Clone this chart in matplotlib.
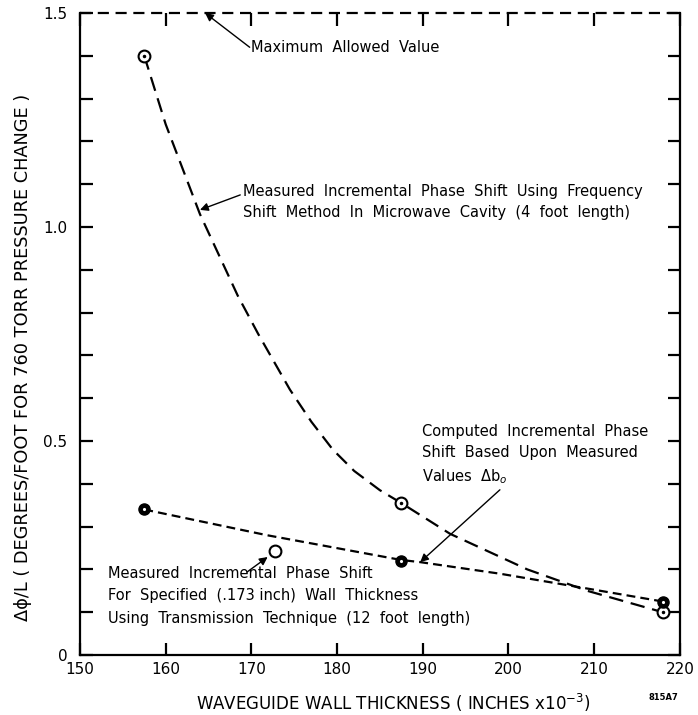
import numpy as np
import matplotlib.pyplot as plt

# values
cavity_x = [157.5, 187.5, 218.0]                 # measured points, microwave cavity
cavity_y = [1.40, 0.355, 0.10]
cavity_curve_x = [157.5, 160, 164, 168.4, 170.8, 174.5, 177, 179.5, 182, 185, 187.5, 193.2, 202.2, 209.2, 218]
cavity_curve_y = [1.40, 1.24, 1.03, 0.84, 0.75, 0.62, 0.545, 0.48, 0.43, 0.385, 0.355, 0.283, 0.20, 0.15, 0.10]

computed_x = [157.5, 187.5, 218.0]               # computed from measured delta b0
computed_y = [0.34, 0.22, 0.125]
computed_curve_x = [157.5, 171.8, 187.5, 189.7, 199, 208.7, 218]
computed_curve_y = [0.34, 0.28, 0.222, 0.217, 0.19, 0.157, 0.125]

transmission_x = [172.7]                         # transmission technique, 12 ft
transmission_y = [0.243]

max_allowed = 1.5

plt.rcParams['font.family'] = ['DejaVu Sans']
fig = plt.figure(figsize=(6.98, 7.15), dpi=100)
ax = fig.add_axes([0.1146, 0.0839, 0.8594, 0.8979])

# curves
ax.plot(cavity_curve_x, cavity_curve_y, color='black', lw=1.6, dashes=(6.5, 3.5))
ax.plot(computed_curve_x, computed_curve_y, color='black', lw=1.6, dashes=(4, 2.3))

# markers
ax.plot(cavity_x, cavity_y, 'o', ms=8.5, mfc='white', mec='black', mew=1.5, zorder=5)
ax.plot(cavity_x, cavity_y, '.', ms=3, color='black', zorder=6)
ax.plot(computed_x, computed_y, 'o', ms=8, mfc='black', mec='black', zorder=5)
ax.plot(computed_x, computed_y, '.', ms=2.5, color='white', zorder=6)
ax.plot(transmission_x, transmission_y, 'o', ms=8.5, mfc='white', mec='black', mew=1.5, zorder=5)

# maximum allowed value line as top border
ax.axhline(max_allowed, color='black', lw=1.6, dashes=(5, 3), clip_on=False, zorder=4)

ax.set_xlim(150, 220)
ax.set_ylim(0, 1.5)
ax.spines['top'].set_visible(False)
for s in ['left', 'right', 'bottom']:
    ax.spines[s].set_linewidth(1.6)

ax.set_xticks(np.arange(150, 221, 10))
ax.set_xticklabels(['150', '160', '170', '180', '190', '200', '210', '220'])
ax.set_yticks([0, 0.5, 1.0, 1.5])
ax.set_yticklabels(['0', '0.5', '1.0', '1.5'])
ax.set_yticks(np.arange(0, 1.51, 0.1), minor=True)
ax.tick_params(axis='both', which='both', direction='in', top=True, right=True,
               length=9, width=1.6, labelsize=11)
ax.tick_params(axis='x', pad=5)
ax.tick_params(axis='y', pad=9)

ax.set_xlabel('WAVEGUIDE WALL THICKNESS ( INCHES x10$^{-3}$)', fontsize=12, va='center')
ax.xaxis.set_label_coords(0.522, -0.075)
ax.set_ylabel('Δϕ/L ( DEGREES/FOOT FOR 760 TORR PRESSURE CHANGE )', fontsize=12.8, va='center')
ax.yaxis.set_label_coords(-0.095, 0.464)

arrow = dict(arrowstyle='-|>', color='black', lw=1.0, mutation_scale=12, shrinkA=0, shrinkB=0)
fs = 10.5

ax.text(170.0, 1.42, 'Maximum  Allowed  Value', fontsize=fs, va='center', ha='left')
ax.annotate('', xy=(164.6, 1.5), xytext=(169.8, 1.42), arrowprops=arrow)

ax.text(169.0, 1.058, 'Measured  Incremental  Phase  Shift  Using  Frequency\n'
        'Shift  Method  In  Microwave  Cavity  (4  foot  length)',
        fontsize=fs, va='center', ha='left', linespacing=1.45)
ax.annotate('', xy=(164.0, 1.04), xytext=(168.7, 1.075), arrowprops=arrow)

ax.text(189.9, 0.467, 'Computed  Incremental  Phase\nShift  Based  Upon  Measured\nValues  Δb$_o$',
        fontsize=fs, va='center', ha='left', linespacing=1.5)
ax.annotate('', xy=(189.7, 0.217), xytext=(199.0, 0.386), arrowprops=arrow)

ax.text(153.3, 0.138, 'Measured  Incremental  Phase  Shift\nFor  Specified  (.173 inch)  Wall  Thickness\n'
        'Using  Transmission  Technique  (12  foot  length)',
        fontsize=fs, va='center', ha='left', linespacing=1.6)
ax.annotate('', xy=(171.9, 0.229), xytext=(169.5, 0.194), arrowprops=arrow)

fig.text(0.95, 0.024, '815A7', fontsize=6, fontweight='bold', ha='center', va='center')

fig.savefig('out.png', dpi=100)
